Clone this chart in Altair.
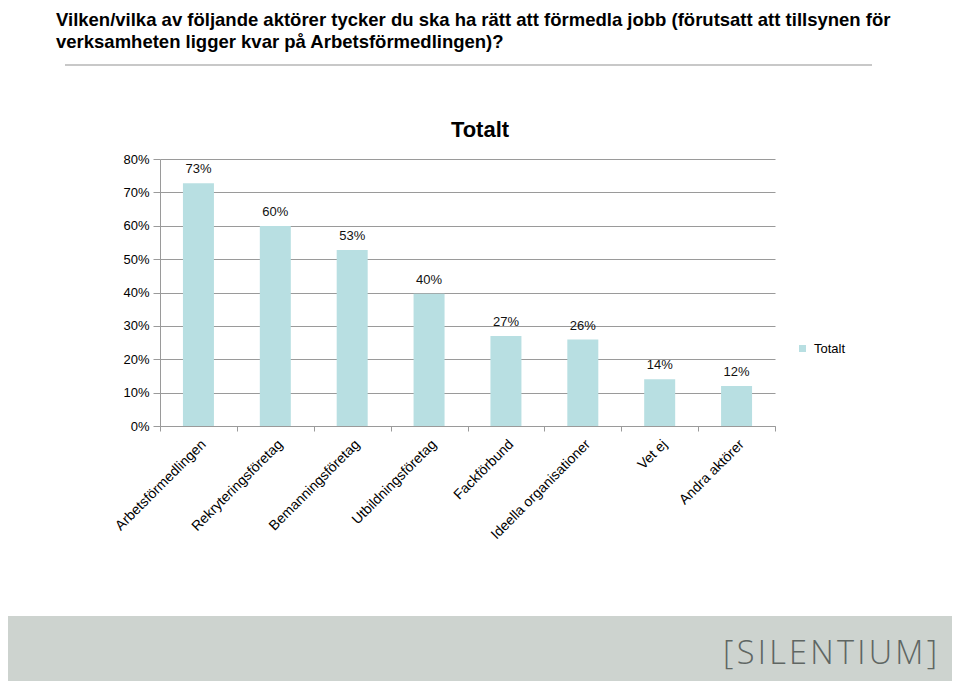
import altair as alt
import pandas as pd

# ---- data ----
categories = [
    "Arbetsförmedlingen",
    "Rekryteringsföretag",
    "Bemanningsföretag",
    "Utbildningsföretag",
    "Fackförbund",
    "Ideella organisationer",
    "Vet ej",
    "Andra aktörer",
]
values = [0.727, 0.599, 0.527, 0.396, 0.270, 0.259, 0.140, 0.120]
series_name = "Totalt"
y_ticks = [0.0, 0.1, 0.2, 0.3, 0.4, 0.5, 0.6, 0.7, 0.8]

header_lines = [
    "Vilken/vilka av följande aktörer tycker du ska ha rätt att förmedla jobb (förutsatt att tillsynen för",
    "verksamheten ligger kvar på Arbetsförmedlingen)?",
]
chart_title = "Totalt"
logo_text = "\u200a".join("[SILENTIUM]")

FONT = "Liberation Sans"
BAR_COLOR = "#b8dfe2"
GRID = "#9a9a9a"

df = pd.DataFrame({"kategori": categories, "andel": values, "serie": [series_name] * len(values)})

x_enc = alt.X(
    "kategori:N",
    sort=categories,
    scale=alt.Scale(paddingInner=0, paddingOuter=0),
    axis=alt.Axis(
        title=None,
        labelAngle=-45,
        labelFont=FONT,
        labelFontSize=14,
        labelColor="#000000",
        labelPadding=6,
        labelOverlap=False,
        tickBand="extent",
        tickSize=5,
        tickColor=GRID,
        domainColor=GRID,
        grid=False,
    ),
)
y_enc = alt.Y(
    "andel:Q",
    scale=alt.Scale(domain=[0, 0.8], nice=False),
    axis=alt.Axis(
        title=None,
        values=y_ticks,
        format=".0%",
        labelFont=FONT,
        labelFontSize=13,
        labelColor="#000000",
        labelPadding=4,
        labelOverlap=False,
        tickSize=7,
        tickColor=GRID,
        domainColor=GRID,
        gridColor=GRID,
        grid=True,
    ),
)

base = alt.Chart(df)

bars = base.mark_bar(size=31).encode(
    x=x_enc,
    y=y_enc,
    color=alt.Color(
        "serie:N",
        scale=alt.Scale(domain=[series_name], range=[BAR_COLOR]),
        legend=alt.Legend(
            title=None,
            orient="none",
            legendX=636,
            legendY=183,
            symbolType="square",
            symbolSize=49,
            symbolStrokeWidth=0,
            labelFont=FONT,
            labelFontSize=13,
            labelColor="#000000",
            labelOffset=5,
            padding=0,
        ),
    ),
)

labels = base.mark_text(baseline="bottom", dy=-7, font=FONT, fontSize=13, color="#111111").encode(
    x=x_enc,
    y=y_enc,
    text=alt.Text("andel:Q", format=".0%"),
)

one = pd.DataFrame({"d": [0]})

header1 = alt.Chart(one).mark_text(
    align="left", baseline="alphabetic", font=FONT, fontSize=18.5, fontWeight="bold", color="#000000"
).encode(x=alt.value(-104), y=alt.value(-133), text=alt.value(header_lines[0]))
header2 = alt.Chart(one).mark_text(
    align="left", baseline="alphabetic", font=FONT, fontSize=18.5, fontWeight="bold", color="#000000"
).encode(x=alt.value(-104), y=alt.value(-111), text=alt.value(header_lines[1]))

header_rule = alt.Chart(one).mark_rule(color="#c8c8c8", strokeWidth=2).encode(
    x=alt.value(-95), x2=alt.value(712), y=alt.value(-94)
)

title_text = alt.Chart(one).mark_text(
    align="center", baseline="middle", font=FONT, fontSize=22, fontWeight="bold", color="#000000"
).encode(x=alt.value(320), y=alt.value(-29), text=alt.value(chart_title))

footer = alt.Chart(one).mark_rect(color="#cdd3cf").encode(
    x=alt.value(-152), x2=alt.value(792), y=alt.value(457), y2=alt.value(522)
)
logo = alt.Chart(one).mark_text(
    align="right", baseline="middle", font="Open Sans", fontSize=32.5, fontWeight=300, color="#5f6663"
).encode(x=alt.value(777), y=alt.value(495), text=alt.value(logo_text))

chart = (
    alt.layer(footer, header_rule, header1, header2, title_text, bars, labels, logo)
    .properties(
        width=615,
        height=267,
        padding={"left": 152, "top": 151, "right": 177, "bottom": 255},
        autosize=alt.AutoSizeParams(type="none"),
        background="#ffffff",
    )
    .configure_view(stroke=None)
)

chart.save("out.html", embed_options={"renderer": "svg", "actions": False})
